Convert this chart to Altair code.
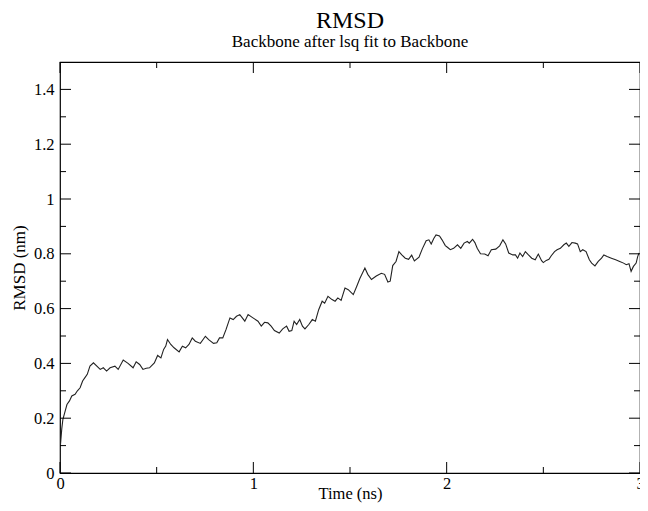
import altair as alt
import pandas as pd

# Time (ns) and RMSD (nm)
time_ns = [
    0.000, 0.002, 0.009, 0.015, 0.027, 0.036, 0.049, 0.061, 0.078, 0.090,
    0.104, 0.117, 0.129, 0.141, 0.155, 0.173, 0.208, 0.224, 0.241, 0.259,
    0.284, 0.301, 0.327, 0.352, 0.378, 0.394, 0.412, 0.429, 0.446, 0.463,
    0.488, 0.505, 0.522, 0.536, 0.547, 0.556, 0.573, 0.590, 0.616, 0.633,
    0.650, 0.667, 0.684, 0.700, 0.726, 0.752, 0.769, 0.794, 0.811, 0.825,
    0.842, 0.859, 0.879, 0.896, 0.913, 0.930, 0.939, 0.956, 0.973, 0.998,
    1.024, 1.041, 1.058, 1.075, 1.092, 1.109, 1.134, 1.152, 1.172, 1.185,
    1.199, 1.211, 1.224, 1.240, 1.254, 1.267, 1.287, 1.305, 1.321, 1.338,
    1.356, 1.369, 1.386, 1.407, 1.423, 1.437, 1.454, 1.474, 1.491, 1.517,
    1.534, 1.551, 1.577, 1.592, 1.611, 1.636, 1.662, 1.679, 1.696, 1.708,
    1.721, 1.738, 1.753, 1.768, 1.786, 1.803, 1.819, 1.833, 1.857, 1.874,
    1.894, 1.908, 1.920, 1.934, 1.945, 1.963, 1.976, 1.993, 2.007, 2.019,
    2.036, 2.056, 2.073, 2.090, 2.107, 2.117, 2.134, 2.146, 2.158, 2.175,
    2.197, 2.214, 2.231, 2.254, 2.274, 2.291, 2.305, 2.321, 2.342, 2.356,
    2.367, 2.379, 2.393, 2.407, 2.423, 2.440, 2.458, 2.474, 2.491, 2.500,
    2.515, 2.529, 2.541, 2.558, 2.571, 2.588, 2.606, 2.619, 2.632, 2.648,
    2.665, 2.677, 2.691, 2.704, 2.721, 2.738, 2.750, 2.767, 2.784, 2.801,
    2.813, 2.830, 2.852, 2.874, 2.895, 2.915, 2.929, 2.943, 2.954, 2.966,
    2.980, 2.988, 2.995,
]
rmsd_nm = [
    0.000, 0.100, 0.160, 0.196, 0.227, 0.250, 0.263, 0.281, 0.287, 0.300,
    0.311, 0.336, 0.348, 0.360, 0.390, 0.402, 0.378, 0.384, 0.372, 0.384,
    0.390, 0.378, 0.412, 0.400, 0.384, 0.406, 0.396, 0.378, 0.382, 0.384,
    0.402, 0.429, 0.420, 0.451, 0.463, 0.487, 0.469, 0.457, 0.442, 0.463,
    0.457, 0.469, 0.493, 0.481, 0.473, 0.499, 0.487, 0.473, 0.475, 0.493,
    0.493, 0.524, 0.566, 0.560, 0.572, 0.578, 0.570, 0.554, 0.578, 0.566,
    0.554, 0.536, 0.550, 0.548, 0.536, 0.520, 0.511, 0.526, 0.536, 0.517,
    0.520, 0.554, 0.542, 0.560, 0.536, 0.526, 0.542, 0.560, 0.554, 0.596,
    0.627, 0.620, 0.645, 0.633, 0.627, 0.639, 0.630, 0.675, 0.669, 0.651,
    0.680, 0.710, 0.748, 0.725, 0.706, 0.719, 0.729, 0.725, 0.697, 0.700,
    0.757, 0.772, 0.808, 0.796, 0.784, 0.780, 0.795, 0.774, 0.788, 0.818,
    0.848, 0.851, 0.836, 0.857, 0.869, 0.865, 0.851, 0.830, 0.822, 0.815,
    0.820, 0.833, 0.820, 0.839, 0.845, 0.839, 0.853, 0.841, 0.820, 0.800,
    0.799, 0.793, 0.815, 0.817, 0.829, 0.851, 0.836, 0.803, 0.796, 0.796,
    0.784, 0.803, 0.790, 0.808, 0.796, 0.784, 0.778, 0.799, 0.775, 0.768,
    0.776, 0.780, 0.793, 0.808, 0.815, 0.820, 0.833, 0.839, 0.827, 0.841,
    0.839, 0.836, 0.808, 0.815, 0.808, 0.778, 0.766, 0.756, 0.772, 0.784,
    0.796, 0.790, 0.784, 0.778, 0.772, 0.766, 0.760, 0.764, 0.736, 0.754,
    0.766, 0.790, 0.803,
]

x_major = [0, 1, 2, 3]
x_minor = [0.5, 1.5, 2.5]
y_major = [0, 0.2, 0.4, 0.6, 0.8, 1.0, 1.2, 1.4]
y_minor = [0.1, 0.3, 0.5, 0.7, 0.9, 1.1, 1.3]

W, H = 580, 411
MAJ, MIN = 11, 6
FONT = "Liberation Serif"

df = pd.DataFrame({"t": time_ns, "r": rmsd_nm})
xs = alt.Scale(domain=[0, 3], nice=False, zero=False)
ys = alt.Scale(domain=[0, 1.5], nice=False, zero=False)

line = alt.Chart(df).mark_line(color="#222222", strokeWidth=1.1, clip=True).encode(
    x=alt.X("t:Q", scale=xs, title="Time (ns)",
            axis=alt.Axis(values=x_major, format="~g", ticks=False, domain=False,
                          grid=False, labelFlush=False, labelPadding=2,
                          labelFontSize=16.5, titleFontSize=16.5, titlePadding=-6,
                          labelFont=FONT, titleFont=FONT, labelColor="#000",
                          titleColor="#000", titleFontWeight="normal")),
    y=alt.Y("r:Q", scale=ys, title="RMSD (nm)",
            axis=alt.Axis(values=y_major, format="~g", ticks=False, domain=False,
                          grid=False, labelPadding=6, labelFontSize=16.5,
                          titleFontSize=17, titlePadding=5, labelFont=FONT,
                          titleFont=FONT, labelColor="#000", titleColor="#000",
                          titleFontWeight="normal")),
)

ymaj = pd.DataFrame({"v": y_major})
ymin = pd.DataFrame({"v": y_minor})
xmaj = pd.DataFrame({"v": x_major})
xmin = pd.DataFrame({"v": x_minor})

def yticks(d, length):
    base = alt.Chart(d).mark_rule(color="#000", strokeWidth=1)
    left = base.encode(y=alt.Y("v:Q", scale=ys), x=alt.value(0), x2=alt.value(length))
    right = base.encode(y=alt.Y("v:Q", scale=ys), x=alt.value(W - length), x2=alt.value(W))
    return [left, right]

def xticks(d, length):
    base = alt.Chart(d).mark_rule(color="#000", strokeWidth=1)
    bottom = base.encode(x=alt.X("v:Q", scale=xs), y=alt.value(H - length), y2=alt.value(H))
    top = base.encode(x=alt.X("v:Q", scale=xs), y=alt.value(0), y2=alt.value(length))
    return [bottom, top]

layers = [line] + yticks(ymaj, MAJ) + yticks(ymin, MIN) + xticks(xmaj, MAJ) + xticks(xmin, MIN)

chart = alt.layer(*layers).properties(
    width=W,
    height=H,
    background="white",
    autosize=alt.AutoSizeParams(type="none"),
    padding={"left": 52, "top": 54, "right": 0, "bottom": 30},
    title=alt.TitleParams(
        text="RMSD",
        subtitle="Backbone after lsq fit to Backbone",
        anchor="middle",
        frame="group",
        font=FONT,
        fontSize=24,
        fontWeight="normal",
        color="#000",
        subtitleFont=FONT,
        subtitleFontSize=17,
        subtitleColor="#000",
        subtitlePadding=1,
        offset=12,
    ),
).configure_view(stroke="#000", strokeWidth=1.2)

chart.save("out.html", embed_options={"renderer": "svg", "actions": False})
